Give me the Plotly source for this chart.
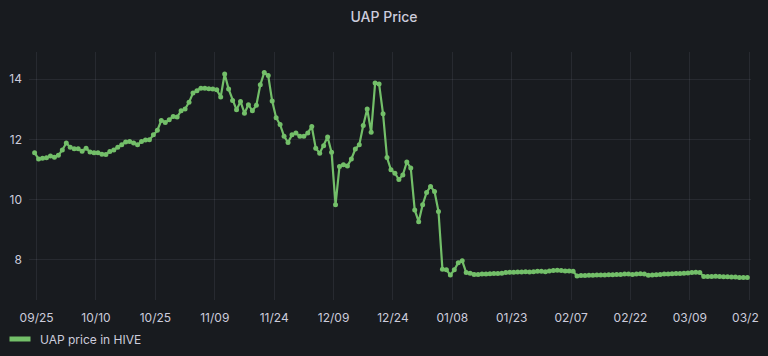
import pandas as pd
import plotly.graph_objects as go

start_time = "2021-09-24 12:00"
prices = [
    11.56, 11.35, 11.37, 11.39, 11.45, 11.41, 11.47, 11.65, 11.88, 11.74,
    11.69, 11.69, 11.61, 11.71, 11.58, 11.56, 11.56, 11.51, 11.50, 11.60,
    11.65, 11.74, 11.82, 11.91, 11.93, 11.88, 11.82, 11.93, 11.98, 11.99,
    12.15, 12.30, 12.63, 12.56, 12.65, 12.76, 12.74, 12.95, 13.01, 13.23,
    13.54, 13.61, 13.70, 13.70, 13.68, 13.67, 13.65, 13.41, 14.17, 13.67,
    13.29, 12.98, 13.26, 12.87, 13.15, 12.95, 13.13, 13.81, 14.22, 14.12,
    13.27, 12.72, 12.49, 12.10, 11.90, 12.15, 12.21, 12.10, 12.10, 12.21,
    12.43, 11.71, 11.54, 11.79, 12.08, 11.57, 9.83, 11.10, 11.16, 11.12,
    11.35, 11.68, 11.82, 12.46, 13.01, 12.24, 13.87, 13.84, 12.85, 11.40,
    10.99, 10.88, 10.67, 10.82, 11.25, 11.05, 9.66, 9.27, 9.83, 10.24,
    10.44, 10.27, 9.61, 7.69, 7.67, 7.50, 7.67, 7.91, 7.97, 7.58,
    7.56, 7.52, 7.52, 7.53, 7.53, 7.54, 7.55, 7.55, 7.56, 7.58,
    7.59, 7.59, 7.60, 7.60, 7.61, 7.60, 7.61, 7.62, 7.62, 7.61,
    7.63, 7.65, 7.66, 7.65, 7.63, 7.63, 7.62, 7.47, 7.48, 7.48,
    7.49, 7.49, 7.50, 7.50, 7.50, 7.51, 7.51, 7.52, 7.52, 7.53,
    7.53, 7.52, 7.53, 7.54, 7.53, 7.49, 7.50, 7.51, 7.52, 7.53,
    7.53, 7.54, 7.55, 7.55, 7.56, 7.57, 7.58, 7.59, 7.58, 7.45,
    7.45, 7.45, 7.46, 7.45, 7.44, 7.44, 7.43, 7.43, 7.42, 7.42,
    7.42,
]
dates = pd.date_range(start_time, periods=len(prices), freq="D")

x_tick_vals = ["2021-09-25", "2021-10-10", "2021-10-25", "2021-11-09", "2021-11-24",
               "2021-12-09", "2021-12-24", "2022-01-08", "2022-01-23", "2022-02-07",
               "2022-02-22", "2022-03-09", "2022-03-24"]
x_tick_text = ["09/25", "10/10", "10/25", "11/09", "11/24", "12/09", "12/24",
               "01/08", "01/23", "02/07", "02/22", "03/09", "03/2\u2007"]
y_tick_vals = [8, 10, 12, 14]
series_name = "UAP price in HIVE"
title_text = "UAP Price"

GREEN = "#73bf69"
TEXT = "#ccccdc"
BG = "#181b1f"
GRID = "rgba(204,204,220,0.09)"

fig = go.Figure()
fig.add_trace(go.Scatter(
    x=dates, y=prices, mode="lines+markers",
    line=dict(color=GREEN, width=2.2),
    marker=dict(color=GREEN, size=5),
    showlegend=False, hoverinfo="x+y",
))
fig.add_trace(go.Scatter(
    x=[None], y=[None], mode="markers", name=series_name,
    marker=dict(symbol="line-ew", size=15, color=GREEN,
                line=dict(color=GREEN, width=5)),
))

fig.update_layout(
    width=768, height=356,
    paper_bgcolor=BG, plot_bgcolor=BG,
    margin=dict(l=29, r=17, t=52, b=56, autoexpand=False),
    font=dict(family="Inter", size=12, color=TEXT),
    title=dict(text=title_text, x=0.5, xanchor="center", y=1 - 17 / 356,
               yanchor="middle", yref="container",
               font=dict(family="Inter", size=14, color=TEXT, weight=500)),
    showlegend=True,
    legend=dict(x=0.0, xref="container", xanchor="left",
                y=(356 - 339) / 356, yref="container", yanchor="middle",
                bgcolor="rgba(0,0,0,0)", font=dict(size=12, color=TEXT),
                itemwidth=30),
    xaxis=dict(
        type="date",
        range=["2021-09-23 02:00", "2022-03-24 10:20"],
        tickvals=x_tick_vals, ticktext=x_tick_text,
        showgrid=True, gridcolor=GRID, gridwidth=1,
        zeroline=False, showline=False, ticks="",
        ticklabelstandoff=9,
        tickfont=dict(size=12, color=TEXT),
    ),
    yaxis=dict(
        range=[6.67, 14.9],
        tickvals=y_tick_vals,
        showgrid=True, gridcolor=GRID, gridwidth=1,
        zeroline=False, showline=False, ticks="",
        ticklabelstandoff=6,
        tickfont=dict(size=12, color=TEXT),
    ),
)

fig.write_html(
    "out.html",
    config={"displayModeBar": False},
    post_script="document.body.style.margin='0';document.body.style.background='%s';" % BG,
)
